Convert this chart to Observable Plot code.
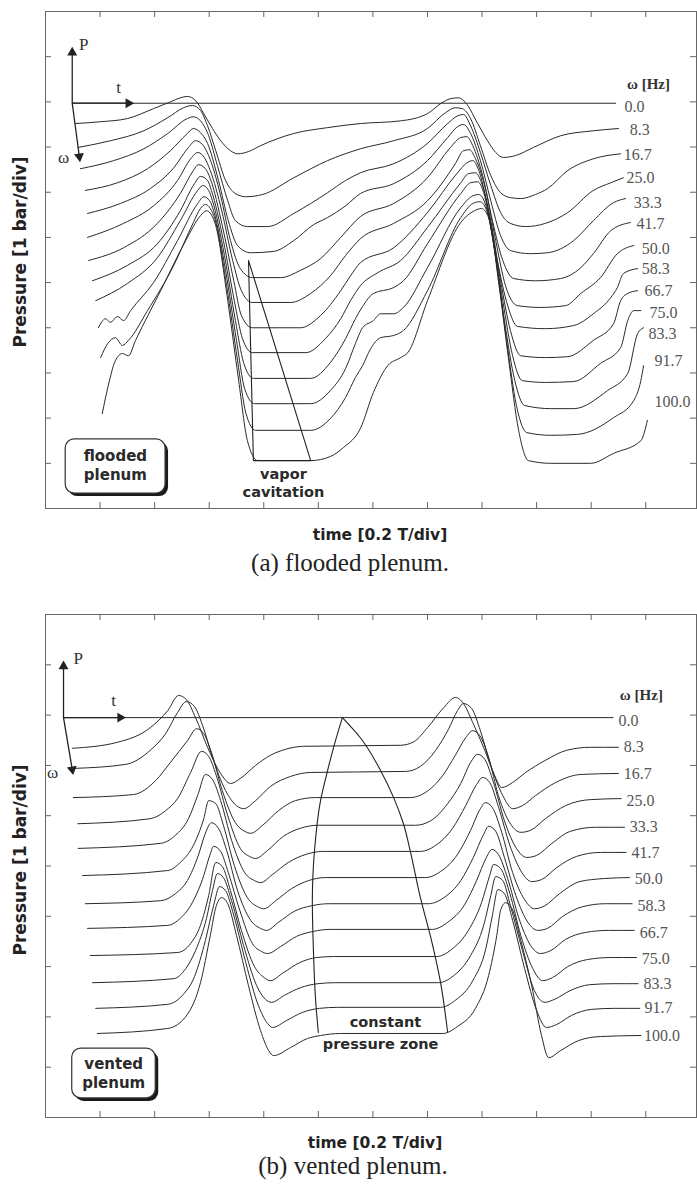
<!DOCTYPE html>
<html>
<head>
<meta charset="utf-8">
<script src="https://cdn.jsdelivr.net/npm/d3@7"></script>
<script src="https://cdn.jsdelivr.net/npm/@observablehq/plot@0.6"></script>
<style>
html,body{margin:0;padding:0;background:#fff;}
#chart{width:697px;}
#chart svg{display:block;}
</style>
</head>
<body>
<div id="chart"></div>
<script>
// ---------- categories ----------
const omegaHz = ["0.0","8.3","16.7","25.0","33.3","41.7","50.0","58.3","66.7","75.0","83.3","91.7","100.0"];
const xTicks = [1,2,3,4,5,6,7,8,9,10,11];
const floodedYTicks = [1,2,3,4,5,6,7,8,9,10];
const ventedYTicks = [1,2,3,4,5,6,7,8,9];

// ---------- (a) flooded plenum : [time div, pressure div] ----------
const flooded00 = [[0.49,8.97],[10.45,8.97]];
const flooded01 = [[0.55,8.52],[1.01,8.56],[1.50,8.63],[1.98,8.85],[2.29,9.00],[2.47,9.09],[2.60,9.12],[2.75,9.03],[2.90,8.74],[3.06,8.41],[3.21,8.14],[3.39,7.92],[3.52,7.85],[3.72,7.90],[3.94,8.03],[4.55,8.30],[5.17,8.43],[5.77,8.52],[6.51,8.58],[7.00,8.74],[7.24,8.96],[7.42,9.07],[7.57,9.09],[7.70,8.98],[7.92,8.52],[8.10,8.14],[8.25,7.88],[8.39,7.77],[8.61,7.81],[8.94,7.99],[9.44,8.25],[10.04,8.36],[10.50,8.41]];
const flooded02 = [[0.59,7.99],[1.19,8.14],[1.80,8.36],[2.24,8.65],[2.53,8.87],[2.69,8.92],[2.84,8.81],[2.97,8.47],[3.12,7.92],[3.30,7.26],[3.48,6.97],[3.67,6.90],[3.98,6.95],[4.55,7.32],[5.17,7.70],[5.77,7.96],[6.38,8.14],[7.00,8.41],[7.33,8.76],[7.51,8.87],[7.64,8.85],[7.79,8.63],[7.97,8.03],[8.16,7.37],[8.34,6.99],[8.52,6.88],[8.71,6.86],[8.98,6.95],[9.20,7.08],[9.57,7.48],[10.04,7.74],[10.54,7.85]];
const flooded03 = [[0.64,7.52],[1.25,7.70],[1.80,7.96],[2.24,8.30],[2.60,8.63],[2.71,8.67],[2.84,8.58],[2.99,8.25],[3.15,7.59],[3.34,6.81],[3.48,6.37],[3.70,6.24],[4.07,6.24],[4.55,6.53],[4.86,6.75],[5.17,6.99],[5.50,7.26],[5.77,7.43],[6.38,7.63],[7.00,8.08],[7.37,8.52],[7.55,8.69],[7.66,8.72],[7.79,8.47],[7.97,7.88],[8.16,7.15],[8.34,6.55],[8.52,6.31],[8.80,6.24],[9.16,6.31],[9.57,6.55],[10.04,7.04],[10.36,7.21],[10.59,7.32]];
const flooded04 = [[0.73,7.04],[1.32,7.21],[1.87,7.52],[2.29,7.92],[2.60,8.30],[2.71,8.41],[2.84,8.32],[2.97,8.08],[3.17,7.26],[3.35,6.37],[3.52,5.82],[3.76,5.66],[4.18,5.69],[4.55,5.93],[4.91,6.28],[5.17,6.44],[5.50,6.70],[5.77,6.97],[6.38,7.19],[7.00,7.70],[7.37,8.21],[7.55,8.45],[7.66,8.50],[7.79,8.30],[7.97,7.70],[8.16,6.81],[8.34,6.04],[8.52,5.71],[8.89,5.64],[9.20,5.66],[9.68,5.93],[10.04,6.37],[10.41,6.77],[10.63,6.86]];
const flooded05 = [[0.77,6.53],[1.37,6.75],[1.92,7.08],[2.35,7.54],[2.62,7.99],[2.75,8.14],[2.88,8.05],[2.99,7.81],[3.21,6.92],[3.39,5.93],[3.57,5.31],[3.79,5.11],[4.31,5.11],[4.67,5.27],[5.04,5.53],[5.41,6.00],[5.77,6.46],[6.38,6.75],[7.00,7.32],[7.42,7.99],[7.61,8.21],[7.72,8.23],[7.83,8.03],[8.01,7.37],[8.19,6.37],[8.38,5.49],[8.58,5.09],[8.98,5.04],[9.44,5.09],[9.81,5.33],[10.04,5.64],[10.36,6.15],[10.72,6.33]];
const flooded06 = [[0.77,6.00],[1.43,6.31],[1.98,6.70],[2.42,7.26],[2.66,7.74],[2.79,7.88],[2.91,7.77],[3.02,7.48],[3.23,6.59],[3.43,5.49],[3.59,4.82],[3.79,4.56],[4.49,4.56],[4.86,4.76],[5.22,5.15],[5.50,5.60],[5.77,5.97],[6.38,6.31],[7.00,6.81],[7.51,7.63],[7.66,7.92],[7.77,7.94],[7.88,7.74],[8.07,7.04],[8.25,5.93],[8.43,4.93],[8.65,4.49],[9.07,4.45],[9.53,4.49],[9.81,4.76],[10.17,5.11],[10.48,5.64],[10.78,5.82]];
const flooded07 = [[0.79,5.49],[1.43,5.77],[2.05,6.31],[2.47,6.97],[2.71,7.48],[2.80,7.61],[2.93,7.52],[3.02,7.30],[3.24,6.26],[3.45,5.04],[3.59,4.27],[3.79,4.00],[4.67,4.00],[5.04,4.27],[5.41,4.82],[5.59,5.15],[5.77,5.44],[6.38,5.77],[7.00,6.55],[7.55,7.43],[7.72,7.65],[7.83,7.70],[7.94,7.48],[8.10,6.70],[8.28,5.49],[8.47,4.49],[8.65,4.03],[9.16,3.98],[9.68,4.05],[10.04,4.31],[10.36,4.67],[10.48,4.89],[10.59,5.20],[10.85,5.31]];
const flooded08 = [[0.86,5.04],[1.50,5.38],[2.05,5.86],[2.47,6.59],[2.73,7.19],[2.84,7.35],[2.97,7.26],[3.04,7.04],[3.26,5.93],[3.46,4.60],[3.61,3.76],[3.79,3.45],[4.77,3.45],[5.13,3.76],[5.41,4.20],[5.59,4.60],[5.77,4.93],[6.09,5.22],[6.51,5.49],[7.00,6.22],[7.61,7.21],[7.75,7.41],[7.88,7.43],[7.99,7.21],[8.16,6.37],[8.34,5.04],[8.52,3.94],[8.71,3.38],[9.16,3.34],[9.57,3.36],[10.04,3.72],[10.41,4.09],[10.54,4.60],[10.67,4.76],[10.85,4.82]];
const flooded09 = [[0.92,4.60],[1.50,4.98],[2.05,5.55],[2.47,6.37],[2.79,7.04],[2.88,7.15],[2.99,7.04],[3.06,6.81],[3.28,5.60],[3.48,4.16],[3.63,3.23],[3.81,2.88],[4.86,2.88],[5.22,3.23],[5.50,3.76],[5.68,4.20],[5.81,4.47],[6.01,4.76],[6.38,4.89],[6.56,5.04],[7.00,5.86],[7.61,6.97],[7.79,7.21],[7.92,7.23],[8.03,6.99],[8.19,6.04],[8.38,4.60],[8.56,3.38],[8.74,2.83],[9.16,2.79],[9.68,2.81],[10.17,3.21],[10.54,3.56],[10.67,4.16],[10.78,4.38],[10.91,4.38]];
const flooded10 = [[0.97,4.00],[1.10,4.20],[1.19,4.12],[1.32,4.25],[1.43,4.16],[1.56,4.38],[1.98,5.00],[2.42,5.93],[2.79,6.75],[2.90,6.90],[3.01,6.81],[3.08,6.59],[3.30,5.27],[3.50,3.72],[3.65,2.65],[3.83,2.32],[4.86,2.32],[5.22,2.61],[5.50,3.10],[5.68,3.65],[5.81,4.00],[6.01,4.16],[6.14,4.31],[6.38,4.31],[6.56,4.45],[7.00,5.33],[7.61,6.66],[7.83,6.92],[7.94,6.95],[8.07,6.70],[8.23,5.71],[8.41,4.16],[8.60,2.83],[8.78,2.28],[9.26,2.21],[9.68,2.21],[10.30,2.61],[10.67,2.99],[10.85,3.87],[10.96,4.00]];
const flooded11 = [[1.01,3.34],[1.14,3.65],[1.28,3.78],[1.41,3.61],[1.52,3.72],[1.87,4.38],[2.35,5.38],[2.71,6.33],[2.84,6.64],[2.93,6.73],[3.02,6.64],[3.10,6.42],[3.32,4.93],[3.52,3.27],[3.67,2.12],[3.85,1.73],[4.86,1.73],[5.22,1.99],[5.50,2.46],[5.68,2.90],[5.81,3.16],[5.96,3.54],[6.14,3.78],[6.38,3.83],[6.56,3.94],[7.00,4.82],[7.61,6.44],[7.83,6.75],[7.96,6.79],[8.10,6.55],[8.27,5.38],[8.45,3.72],[8.63,2.28],[8.82,1.68],[9.26,1.62],[9.75,1.64],[10.41,2.01],[10.78,2.39],[10.91,2.83],[10.96,3.16]];
const flooded12 = [[1.04,2.10],[1.15,2.72],[1.28,3.27],[1.41,3.43],[1.52,3.38],[1.65,3.72],[2.11,4.82],[2.57,5.93],[2.84,6.48],[2.95,6.59],[3.04,6.50],[3.12,6.26],[3.34,4.60],[3.54,2.83],[3.70,1.50],[3.89,1.06],[4.86,1.06],[5.22,1.15],[5.46,1.35],[5.77,1.77],[6.01,2.57],[6.27,3.16],[6.51,3.34],[6.64,3.45],[7.00,4.60],[7.61,6.33],[7.86,6.59],[7.99,6.64],[8.14,6.37],[8.30,5.04],[8.49,3.27],[8.67,1.73],[8.85,1.06],[9.26,1.00],[9.99,1.00],[10.41,1.22],[10.91,1.50],[11.03,1.95]];

// ---------- (b) vented plenum : [time div, pressure div] ----------
const vented00 = [[0.33,7.95],[10.40,7.95]];
const vented01 = [[0.49,7.34],[1.32,7.46],[1.92,7.75],[2.24,8.09],[2.44,8.39],[2.58,8.31],[2.75,7.95],[2.97,7.36],[3.21,6.84],[3.39,6.64],[3.57,6.74],[3.85,7.00],[4.12,7.20],[4.40,7.32],[4.73,7.38],[6.51,7.40],[6.75,7.47],[7.00,7.75],[7.30,8.15],[7.51,8.35],[7.66,8.23],[7.83,7.85],[8.05,7.30],[8.23,6.80],[8.36,6.56],[8.56,6.66],[8.80,6.86],[9.16,7.10],[9.55,7.30],[9.99,7.36],[10.50,7.36]];
const vented02 = [[0.51,6.94],[1.47,7.02],[1.92,7.30],[2.20,7.63],[2.42,8.05],[2.58,8.27],[2.73,8.17],[2.88,7.79],[3.06,7.16],[3.30,6.50],[3.50,6.20],[3.63,6.14],[3.85,6.30],[4.12,6.58],[4.49,6.78],[4.86,6.86],[6.60,6.88],[6.87,6.98],[7.15,7.30],[7.39,7.73],[7.55,8.09],[7.66,8.23],[7.81,8.13],[7.97,7.69],[8.16,7.00],[8.38,6.40],[8.56,6.14],[8.74,6.20],[8.98,6.40],[9.35,6.66],[9.81,6.82],[10.50,6.84]];
const vented03 = [[0.51,6.36],[1.61,6.42],[2.02,6.70],[2.29,7.06],[2.60,7.49],[2.77,7.73],[2.90,7.63],[3.04,7.26],[3.24,6.50],[3.48,5.86],[3.65,5.69],[3.76,5.65],[3.98,5.81],[4.27,6.10],[4.58,6.30],[4.95,6.36],[6.69,6.36],[6.96,6.46],[7.28,6.80],[7.51,7.20],[7.70,7.55],[7.83,7.69],[7.96,7.59],[8.12,7.16],[8.30,6.40],[8.52,5.84],[8.71,5.67],[8.89,5.71],[9.16,5.94],[9.53,6.20],[9.99,6.32],[10.55,6.34]];
const vented04 = [[0.59,5.84],[1.92,5.94],[2.20,6.10],[2.42,6.34],[2.66,6.86],[2.86,7.28],[2.99,7.18],[3.13,6.80],[3.34,6.00],[3.57,5.35],[3.74,5.19],[3.85,5.15],[4.07,5.31],[4.36,5.59],[4.67,5.75],[5.00,5.81],[6.78,5.81],[7.06,5.90],[7.37,6.24],[7.61,6.64],[7.79,7.06],[7.92,7.22],[8.05,7.12],[8.21,6.66],[8.41,5.90],[8.63,5.35],[8.82,5.17],[9.00,5.21],[9.28,5.45],[9.62,5.69],[10.08,5.77],[10.61,5.77]];
const vented05 = [[0.60,5.35],[2.11,5.45],[2.38,5.61],[2.62,5.94],[2.80,6.44],[2.93,6.82],[3.06,6.72],[3.21,6.30],[3.41,5.51],[3.65,4.87],[3.83,4.71],[3.94,4.67],[4.16,4.83],[4.45,5.07],[4.77,5.23],[5.08,5.29],[6.87,5.29],[7.15,5.41],[7.46,5.75],[7.70,6.20],[7.90,6.62],[8.01,6.76],[8.14,6.66],[8.30,6.18],[8.51,5.41],[8.73,4.87],[8.91,4.69],[9.09,4.73],[9.37,4.97],[9.73,5.19],[10.17,5.27],[10.64,5.27]];
const vented06 = [[0.68,4.81],[2.24,4.91],[2.47,5.07],[2.71,5.41],[2.90,5.94],[2.99,6.30],[3.12,6.24],[3.26,5.81],[3.46,5.01],[3.70,4.37],[3.89,4.19],[4.00,4.15],[4.22,4.31],[4.51,4.55],[4.82,4.71],[5.13,4.77],[6.96,4.77],[7.24,4.89],[7.55,5.23],[7.79,5.71],[7.97,6.14],[8.06,6.26],[8.19,6.16],[8.36,5.67],[8.56,4.87],[8.78,4.33],[8.96,4.15],[9.15,4.21],[9.42,4.45],[9.79,4.69],[10.23,4.75],[10.70,4.77]];
const vented07 = [[0.73,4.25],[2.11,4.31],[2.38,4.45],[2.60,4.71],[2.80,5.21],[2.93,5.65],[3.04,5.86],[3.17,5.75],[3.32,5.31],[3.52,4.51],[3.76,3.92],[3.94,3.76],[4.05,3.72],[4.27,3.88],[4.56,4.10],[4.88,4.21],[5.19,4.25],[7.02,4.25],[7.30,4.37],[7.61,4.71],[7.84,5.17],[8.03,5.63],[8.12,5.79],[8.25,5.69],[8.41,5.17],[8.62,4.41],[8.84,3.88],[9.02,3.72],[9.20,3.76],[9.48,4.00],[9.84,4.19],[10.26,4.25],[10.75,4.25]];
const vented08 = [[0.77,3.76],[2.24,3.82],[2.47,3.96],[2.69,4.27],[2.90,4.81],[3.01,5.21],[3.08,5.39],[3.21,5.29],[3.35,4.87],[3.56,4.12],[3.79,3.46],[3.96,3.30],[4.07,3.26],[4.31,3.40],[4.60,3.60],[4.91,3.70],[5.22,3.74],[7.09,3.74],[7.37,3.88],[7.68,4.23],[7.90,4.71],[8.08,5.17],[8.18,5.33],[8.30,5.23],[8.47,4.75],[8.67,3.98],[8.89,3.42],[9.07,3.26],[9.26,3.32],[9.53,3.54],[9.90,3.68],[10.32,3.72],[10.79,3.72]];
const vented09 = [[0.82,3.22],[2.42,3.28],[2.66,3.46],[2.84,3.82],[2.99,4.41],[3.12,5.07],[3.24,4.99],[3.39,4.51],[3.59,3.72],[3.83,3.00],[4.01,2.78],[4.12,2.72],[4.36,2.88],[4.66,3.08],[4.97,3.18],[5.28,3.20],[7.17,3.20],[7.44,3.34],[7.75,3.72],[7.99,4.27],[8.14,4.81],[8.21,5.03],[8.34,4.95],[8.51,4.45],[8.71,3.62],[8.93,2.96],[9.11,2.72],[9.29,2.78],[9.57,3.00],[9.93,3.14],[10.36,3.18],[10.83,3.18]];
const vented10 = [[0.86,2.68],[2.35,2.76],[2.57,2.96],[2.75,3.32],[2.95,3.96],[3.06,4.51],[3.15,4.85],[3.26,4.77],[3.41,4.31],[3.63,3.42],[3.87,2.62],[4.03,2.35],[4.14,2.29],[4.38,2.43],[4.67,2.58],[4.99,2.66],[5.32,2.68],[7.20,2.68],[7.48,2.82],[7.79,3.22],[8.03,3.82],[8.16,4.41],[8.25,4.79],[8.38,4.71],[8.52,4.21],[8.74,3.32],[8.96,2.52],[9.15,2.29],[9.33,2.35],[9.61,2.52],[9.97,2.64],[10.39,2.66],[10.86,2.66]];
const vented11 = [[0.92,2.17],[2.24,2.25],[2.51,2.43],[2.73,2.80],[2.93,3.52],[3.08,4.21],[3.19,4.59],[3.30,4.51],[3.45,4.02],[3.67,3.08],[3.90,2.23],[4.07,1.87],[4.16,1.79],[4.42,1.93],[4.71,2.09],[5.02,2.17],[5.35,2.19],[7.24,2.19],[7.51,2.33],[7.83,2.72],[8.07,3.36],[8.19,4.02],[8.29,4.53],[8.41,4.45],[8.56,3.92],[8.78,2.96],[9.00,2.13],[9.18,1.79],[9.37,1.85],[9.64,2.03],[10.01,2.15],[10.43,2.17],[10.89,2.17]];
const vented12 = [[0.95,1.67],[2.24,1.77],[2.60,2.05],[2.84,2.68],[3.02,3.62],[3.13,4.21],[3.23,4.37],[3.34,4.25],[3.50,3.62],[3.72,2.62],[3.94,1.73],[4.09,1.33],[4.18,1.23],[4.49,1.39],[4.80,1.57],[5.04,1.63],[5.41,1.67],[7.28,1.67],[7.55,1.81],[7.88,2.17],[8.12,2.82],[8.27,3.62],[8.34,4.12],[8.43,4.27],[8.54,4.17],[8.71,3.52],[8.91,2.62],[9.09,1.63],[9.22,1.19],[9.44,1.33],[9.77,1.53],[10.17,1.61],[10.91,1.63]];

// ---------- label positions (data units) ----------
const floodedLabelT = [10.59,10.69,10.58,10.63,10.76,10.81,10.91,10.91,10.96,11.05,11.03,11.14,11.14];
const floodedLabelP = [8.89,8.38,7.83,7.32,6.77,6.31,5.75,5.31,4.82,4.34,3.87,3.27,2.35];
const ventedLabelT = [10.48,10.58,10.58,10.63,10.69,10.72,10.78,10.83,10.87,10.91,10.94,10.96,10.95];
const ventedLabelP = [7.89,7.36,6.84,6.30,5.77,5.27,4.75,4.21,3.68,3.16,2.66,2.17,1.63];

// ---------- annotations ----------
const vaporTriangle = [[3.81,1.06],[3.72,5.49],[4.86,1.06],[3.81,1.06]];
const cpzLeft = [[5.44,7.95],[5.28,7.36],[5.17,6.90],[5.04,6.30],[4.93,5.31],[4.89,4.31],[4.91,3.32],[4.95,2.33],[5.00,1.69]];
const cpzRight = [[5.44,7.95],[5.77,7.55],[6.14,6.90],[6.38,6.36],[6.56,5.84],[6.69,5.27],[6.87,4.37],[7.06,3.58],[7.24,2.68],[7.37,1.69]];

const floodedArrows = [
  {x1:0.49,y1:8.97,x2:0.49,y2:10.09,rot:0},
  {x1:0.49,y1:8.97,x2:1.52,y2:8.97,rot:90},
  {x1:0.49,y1:8.97,x2:0.62,y2:7.79,rot:172.6}
];
const floodedArrowText = [{t:0.70,p:10.27,s:"P"},{t:1.34,p:9.31,s:"t"},{t:0.33,p:7.77,s:"ω"}];
const ventedArrows = [
  {x1:0.33,y1:7.95,x2:0.33,y2:8.97,rot:0},
  {x1:0.33,y1:7.95,x2:1.37,y2:7.95,rot:90},
  {x1:0.33,y1:7.95,x2:0.49,y2:6.92,rot:170.2}
];
const ventedArrowText = [{t:0.60,p:9.13,s:"P"},{t:1.25,p:8.29,s:"t"},{t:0.13,p:6.86,s:"ω"}];

const floodedBox = {x1:0.37,x2:2.20,y1:0.33,y2:1.53};
const floodedBoxText = [{t:1.28,p:1.15,s:"flooded"},{t:1.28,p:0.73,s:"plenum"}];
const ventedBox = {x1:0.49,x2:2.02,y1:0.38,y2:1.37};
const ventedBoxText = [{t:1.25,p:1.05,s:"vented"},{t:1.25,p:0.68,s:"plenum"}];
const vaporText = [{t:4.36,p:0.75,s:"vapor"},{t:4.36,p:0.35,s:"cavitation"}];
const cpzText = [{t:6.23,p:1.89,s:"constant"},{t:6.14,p:1.45,s:"pressure zone"}];

const SERIF = "'Liberation Serif','Times New Roman',serif";
const SANS = "'DejaVu Sans',Verdana,sans-serif";
const INK = "#2a2a2a";

function toRows(traces) {
  return traces.flatMap((tr, i) => tr.map(([t, p]) => ({omega: omegaHz[i], t, p})));
}
function pts(arr, id) { return arr.map(([t, p]) => ({id, t, p})); }

function panel(cfg) {
  const W = 697, ML = 45, MR = 1;
  const plotW = W - ML - MR;
  const plotH = cfg.height - cfg.marginTop - cfg.marginBottom;
  const labels = omegaHz.map((s, i) => ({s, t: cfg.labelT[i], p: cfg.labelP[i]}));
  const tick = "#666";
  return Plot.plot({
    width: W, height: cfg.height,
    marginLeft: ML, marginRight: MR, marginTop: cfg.marginTop, marginBottom: cfg.marginBottom,
    x: {domain: [0, 11.93], axis: null},
    y: {domain: [0, cfg.yMax], axis: null},
    style: {background: "#fff", overflow: "visible"},
    marks: [
      Plot.frame({stroke: tick, strokeWidth: 1}),
      Plot.ruleX(xTicks, {insetTop: plotH - 6, stroke: tick}),
      Plot.ruleX(xTicks, {insetBottom: plotH - 6, stroke: tick}),
      Plot.ruleY(cfg.yTicks, {insetRight: plotW - 6, stroke: tick}),
      Plot.ruleY(cfg.yTicks, {insetLeft: plotW - 6, stroke: tick}),
      // traces
      Plot.line(toRows(cfg.traces), {x: "t", y: "p", z: "omega", curve: "monotone-x", stroke: INK, strokeWidth: 1}),
      // annotation lines
      ...cfg.annoMarks,
      // omega labels
      Plot.text(labels, {x: "t", y: "p", text: "s", textAnchor: "start", dx: 1, fontFamily: SERIF, fontSize: 16, fill: "#555"}),
      Plot.text([{t: cfg.hz[0], p: cfg.hz[1]}], {x: "t", y: "p", text: () => "ω [Hz]", fontFamily: SERIF, fontWeight: "bold", fontSize: 15, fill: "#333"}),
      // axis arrows
      Plot.link(cfg.arrows, {x1: "x1", y1: "y1", x2: "x2", y2: "y2", stroke: "#222", strokeWidth: 1.3}),
      Plot.dot(cfg.arrows, {x: "x2", y: "y2", symbol: "triangle", r: 3.7, fill: "#222", stroke: "none", rotate: "rot"}),
      Plot.text(cfg.arrowText, {x: "t", y: "p", text: "s", fontFamily: SERIF, fontSize: 17, fill: "#333"}),
      // label box
      Plot.rect([cfg.box], {x1: "x1", x2: "x2", y1: "y1", y2: "y2", rx: 9, fill: "#1a1a1a", dx: 3, dy: 3}),
      Plot.rect([cfg.box], {x1: "x1", x2: "x2", y1: "y1", y2: "y2", rx: 9, fill: "#fff", stroke: "#333", strokeWidth: 1.2}),
      Plot.text(cfg.boxText, {x: "t", y: "p", text: "s", fontFamily: SANS, fontWeight: "bold", fontSize: 15, fill: "#2a2a2a"}),
      Plot.text(cfg.annoText, {x: "t", y: "p", text: "s", fontFamily: SANS, fontWeight: "bold", fontSize: 14.5, fill: "#2a2a2a"}),
      // axis titles & caption
      Plot.text(["Pressure [1 bar/div]"], {frameAnchor: "left", textAnchor: "middle", lineAnchor: "middle", dx: -25, dy: cfg.yLabelDy, rotate: -90, fontFamily: SANS, fontWeight: "bold", fontSize: 17, fill: "#222"}),
      Plot.text(["time [0.2 T/div]"], {frameAnchor: "bottom", textAnchor: "middle", lineAnchor: "middle", dx: cfg.xLabelDx, dy: cfg.xLabelDy, fontFamily: SANS, fontWeight: "bold", fontSize: 15.5, fill: "#222"}),
      Plot.text([cfg.caption], {frameAnchor: "bottom", textAnchor: "middle", lineAnchor: "middle", dx: cfg.captionDx, dy: cfg.captionDy, fontFamily: SERIF, fontSize: 25, fill: "#222"})
    ]
  });
}

const chartA = panel({
  height: 600, marginTop: 11, marginBottom: 92, yMax: 11, yTicks: floodedYTicks,
  traces: [flooded00,flooded01,flooded02,flooded03,flooded04,flooded05,flooded06,flooded07,flooded08,flooded09,flooded10,flooded11,flooded12],
  labelT: floodedLabelT, labelP: floodedLabelP, hz: [11.05, 9.40],
  annoMarks: [Plot.line(pts(vaporTriangle, "v"), {x: "t", y: "p", stroke: "#222", strokeWidth: 1.1})],
  arrows: floodedArrows, arrowText: floodedArrowText,
  box: floodedBox, boxText: floodedBoxText, annoText: vaporText,
  yLabelDy: -8, xLabelDx: 9, xLabelDy: 27, captionDx: -21, captionDy: 54,
  caption: "(a) flooded plenum."
});

const chartB = panel({
  height: 587, marginTop: 14, marginBottom: 70, yMax: 10, yTicks: ventedYTicks,
  traces: [vented00,vented01,vented02,vented03,vented04,vented05,vented06,vented07,vented08,vented09,vented10,vented11,vented12],
  labelT: ventedLabelT, labelP: ventedLabelP, hz: [10.92, 8.39],
  annoMarks: [
    Plot.line(pts(cpzLeft, "l"), {x: "t", y: "p", curve: "monotone-y", stroke: "#222", strokeWidth: 1.1}),
    Plot.line(pts(cpzRight, "r"), {x: "t", y: "p", curve: "monotone-y", stroke: "#222", strokeWidth: 1.1})
  ],
  arrows: ventedArrows, arrowText: ventedArrowText,
  box: ventedBox, boxText: ventedBoxText, annoText: cpzText,
  yLabelDy: -6, xLabelDx: 4, xLabelDy: 26, captionDx: -18, captionDy: 48,
  caption: "(b) vented plenum."
});

document.getElementById("chart").append(chartA, chartB);
</script>
</body>
</html>
